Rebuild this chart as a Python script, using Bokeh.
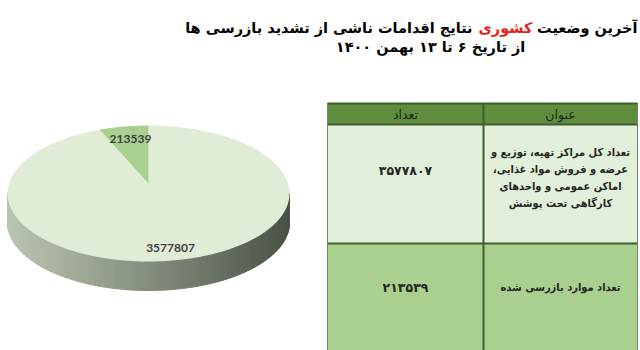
import numpy as np
from bokeh.plotting import figure
from bokeh.models import Range1d
from bokeh.core.properties import value
from bokeh.embed import file_html
from bokeh.resources import INLINE

# ---------------- data ----------------
slice_values = [3577807, 213539]
slice_labels = ["3577807", "213539"]
slice_colors = ["#e0ecd6", "#a9d08e"]

table_headers = ["عنوان", "تعداد"]
row_titles = [
    ["تعداد کل مراکز تهیه، توزیع و",
     "عرضه و فروش مواد غذایی،\u200f",
     "اماکن عمومی و واحدهای",
     "کارگاهی تحت پوشش"],
    ["تعداد موارد بازرسی شده"],
]
row_counts = [3577807, 213539]

title_right = "آخرین وضعیت"
title_red = "کشوری"
title_left = "نتایج اقدامات ناشی از تشدید بازرسی ها"
title_line2 = "از تاریخ ۶ تا ۱۳ بهمن ۱۴۰۰"

FA_DIGITS = str.maketrans("0123456789", "۰۱۲۳۴۵۶۷۸۹")

# ---------------- figure ----------------
p = figure(width=640, height=350, x_range=Range1d(0, 640), y_range=Range1d(350, 0),
           toolbar_location=None, output_backend="svg", min_border=0)
p.axis.visible = False
p.grid.visible = False
p.outline_line_color = None
p.background_fill_color = "white"
p.border_fill_color = "white"

FONT = value("DejaVu Sans")
CFONT = value("DejaVu Sans Condensed, DejaVu Sans")

# ---------------- 3D pie ----------------
CX, CY, RX, RY, DEPTH = 148, 193, 141, 68, 29
TIP_Y = CY - 10

# side (front half) with horizontal shading
light = np.array([186, 196, 176])
dark = np.array([74, 82, 70])
th = np.linspace(np.pi, 2 * np.pi, 121)
xs_side, ys_side, cols = [], [], []
for a, b in zip(th[:-1], th[1:]):
    x1, x2 = CX + RX * np.cos(a), CX + RX * np.cos(b)
    y1, y2 = CY - RY * np.sin(a), CY - RY * np.sin(b)
    xs_side.append([x1, x2, x2, x1])
    ys_side.append([y1, y2, y2 + DEPTH, y1 + DEPTH])
    t = ((x1 + x2) / 2 - (CX - RX)) / (2 * RX)
    t = t ** 1.1
    c = (light * (1 - t) + dark * t).astype(int)
    cols.append("#%02x%02x%02x" % tuple(c))
p.patches(xs_side, ys_side, fill_color=cols, line_color=cols, line_width=1)

# top faces
total = float(sum(slice_values))
start = 90.0
xs_top, ys_top = [], []
for v in slice_values:
    sweep = 360.0 * v / total
    a = np.radians(np.linspace(start, start - sweep, 200))
    xs_top.append([CX] + list(CX + RX * np.cos(a)))
    ys_top.append([TIP_Y] + list(CY - RY * np.sin(a)))
    start -= sweep
p.patches(xs_top, ys_top, fill_color=slice_colors, line_color=None)

p.text(x=[170, 130], y=[247, 138], text=slice_labels, text_font=value("Lato"),
       text_font_style="bold", text_font_size="12px", text_color="#404040",
       text_align="center", text_baseline="middle")

# ---------------- table ----------------
TL, TM, TR = 327, 483, 637
row_edges = [103, 124, 243, 350]
title_centers = [177.5, 287]
count_centers = [170, 287]
p.quad(left=[TL, TL, TL], right=[TR, TR, TR], top=row_edges[:-1], bottom=row_edges[1:],
       fill_color=["#5e8e3d", "#e2efda", "#a9d08e"], line_color="#6f8a60", line_width=1)
p.segment(x0=[TM, TL, TL, TL], y0=[row_edges[0], row_edges[0], row_edges[1], row_edges[2]],
          x1=[TM, TR, TR, TR], y1=[row_edges[3], row_edges[0], row_edges[1], row_edges[2]],
          line_color="#3f5d2d", line_width=2)

p.text(x=[(TM + TR) / 2, (TL + TM) / 2], y=[113.5, 113.5], text=table_headers,
       text_font=FONT, text_font_size="12.5px", text_color="#1c2814",
       text_align="center", text_baseline="middle")

for i, lines in enumerate(row_titles):
    n = len(lines)
    ys = [title_centers[i] + (k - (n - 1) / 2) * 17 for k in range(n)]
    p.text(x=[(TM + TR) / 2] * n, y=ys, text=lines, text_font=CFONT,
           text_font_style="bold", text_font_size="11px", text_color="#262626",
           text_align="center", text_baseline="middle")
    p.text(x=[(TL + TM) / 2], y=[count_centers[i]], text=[str(row_counts[i]).translate(FA_DIGITS)],
           text_font=FONT, text_font_style="bold", text_font_size="12.5px",
           text_color="#262626", text_align="center", text_baseline="middle")

# ---------------- title ----------------
TS = "14.5px"
p.text(x=[637], y=[27], text=[title_right], text_font=FONT, text_font_style="bold",
       text_font_size=TS, text_color="black", text_align="right", text_baseline="middle")
p.text(x=[532], y=[27], text=[title_red], text_font=FONT, text_font_style="bold",
       text_font_size=TS, text_color="#e8201c", text_align="right", text_baseline="middle")
p.text(x=[472], y=[27], text=[title_left], text_font=FONT, text_font_style="bold",
       text_font_size=TS, text_color="black", text_align="right", text_baseline="middle")
p.text(x=[430], y=[46], text=[title_line2], text_font=FONT, text_font_style="bold",
       text_font_size=TS, text_color="black", text_align="center", text_baseline="middle")

open("out.html", "w").write(file_html(p, INLINE))
